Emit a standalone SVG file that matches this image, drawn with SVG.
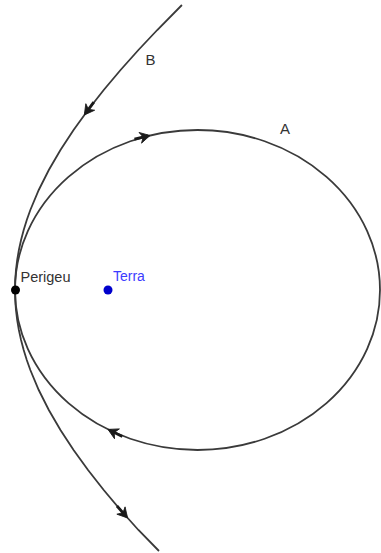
<svg xmlns="http://www.w3.org/2000/svg" xmlns:xlink="http://www.w3.org/1999/xlink" width="381" height="553" viewBox="0 0 381 553">
  <style>
    .curve { fill: none; stroke: #3a3a3a; stroke-width: 1.8; }
    .lbl { font-family: "Liberation Sans", Arial, sans-serif; fill: #333333; }
    .terra { font-family: "Liberation Sans", Arial, sans-serif; fill: #3c3cff; }
  </style>
  <defs>
    <g id="arr">
      <line x1="-16" y1="0" x2="-2" y2="0" stroke="#1a1a1a" stroke-width="2.8"/>
      <path d="M0,0 L-10,-5.5 L-7,0 L-10,5.5 Z" fill="#1a1a1a" stroke="#1a1a1a" stroke-width="0.8" stroke-linejoin="miter"/>
    </g>
  </defs>
  <rect width="381" height="553" fill="#ffffff"/>
  <g id="connectors">
    <g id="orbitA">
      <ellipse class="curve" cx="197.5" cy="290" rx="182.5" ry="160"/>
      <use xlink:href="#arr" href="#arr" transform="translate(150,135.5) rotate(-13.3)"/>
      <use xlink:href="#arr" href="#arr" transform="translate(108,429.4) rotate(206.3)"/>
    </g>
    <g id="orbitB">
      <polyline class="curve" points="181.93,5 157.23,30 138.41,50 120.54,70 103.71,90 88.02,110 73.56,130 60.46,150 48.81,170 38.74,190 30.33,210 26.78,220 23.69,230 21.05,240 18.88,250 17.19,260 15.97,270 15.24,280 15,290 15.24,300 15.97,310 17.19,320 18.88,330 21.05,340 23.69,350 26.78,360 30.33,370 38.74,390 48.81,410 60.46,430 73.56,450 88.02,470 103.71,490 120.54,510 138.41,530 159,551"/>
      <use xlink:href="#arr" href="#arr" transform="translate(84.3,115) rotate(126.5)"/>
      <use xlink:href="#arr" href="#arr" transform="translate(127.6,518) rotate(48.4)"/>
    </g>
  </g>
  <g id="labelA"><text class="lbl" x="280" y="134" font-size="15">A</text></g>
  <g id="labelB"><text class="lbl" x="145.5" y="65" font-size="15">B</text></g>
  <g id="perigeu">
    <circle cx="15.5" cy="290" r="4.5" fill="#000000"/>
    <text class="lbl" x="20.5" y="281.5" font-size="14.5">Perigeu</text>
  </g>
  <g id="terra">
    <circle cx="108" cy="290" r="4.5" fill="#0000cc"/>
    <text class="terra" x="113" y="280.5" font-size="14">Terra</text>
  </g>
</svg>
